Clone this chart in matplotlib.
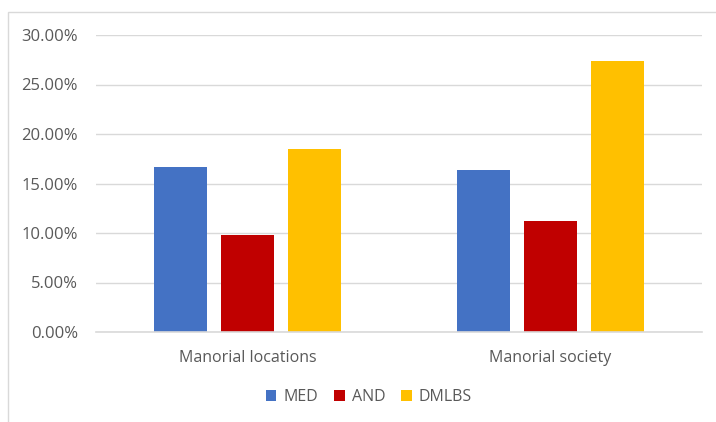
import matplotlib.pyplot as plt
import numpy as np
from matplotlib.patches import Rectangle
from matplotlib.ticker import FuncFormatter, MultipleLocator

categories = ['Manorial locations', 'Manorial society']
series = ['MED', 'AND', 'DMLBS']
med = [16.7, 16.4]
andv = [9.8, 11.2]
dmlbs = [18.5, 27.4]

colors = {
    'MED': '#4472C4',
    'AND': '#C00000',
    'DMLBS': '#FFC000',
}

plt.rcParams['font.family'] = ['Open Sans', 'DejaVu Sans']
textColor = '#595959'
gridColor = '#d9d9d9'

fig = plt.figure(figsize=(7.16, 4.22), dpi=100)
ax = fig.add_axes([96 / 716, 90 / 422, 606 / 716, 297 / 422])

fig.patches.append(Rectangle((8 / 716, -0.01), 1.0, (422 - 12) / 422 + 0.01,
                             transform=fig.transFigure, fill=False,
                             edgecolor=gridColor, linewidth=1.0))

x = np.arange(len(categories))
width = 0.175
step = 0.221
data = {'MED': med, 'AND': andv, 'DMLBS': dmlbs}

for i, name in enumerate(series):
    ax.bar(x + (i - 1) * step, data[name], width, label=name,
           color=colors[name], zorder=3)

ax.set_xlim(-0.5, 1.5)
ax.set_ylim(0, 30)
ax.yaxis.set_major_locator(MultipleLocator(5))
ax.yaxis.set_major_formatter(FuncFormatter(lambda v, p: f'{v:.2f}%'))
ax.set_xticks(x, categories)

ax.grid(axis='y', color=gridColor, linewidth=1.0, zorder=0)
for s in ['top', 'right', 'left']:
    ax.spines[s].set_visible(False)
ax.spines['bottom'].set_color(gridColor)
ax.spines['bottom'].set_linewidth(1.2)
ax.spines['bottom'].set_zorder(4)

ax.tick_params(axis='y', length=0, pad=13, labelsize=12, labelcolor=textColor)
ax.tick_params(axis='x', length=0, pad=13, labelsize=11.5, labelcolor=textColor)

fig.legend(*ax.get_legend_handles_labels(), loc='center',
           bbox_to_anchor=(369 / 716, (422 - 397) / 422), ncols=3, frameon=False,
           fontsize=11.5, labelcolor=textColor, handlelength=0.65, handleheight=0.65,
           handletextpad=0.45, columnspacing=1.0)

fig.savefig('out.png', dpi=100)
